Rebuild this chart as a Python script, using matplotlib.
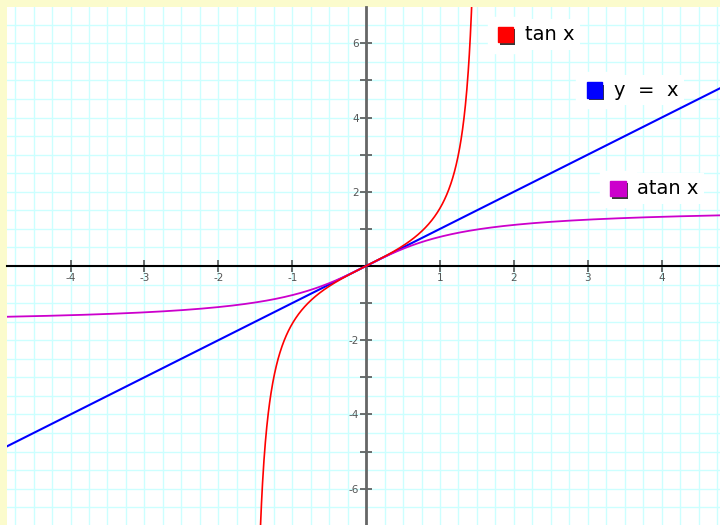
import numpy as np
import matplotlib.pyplot as plt
import matplotlib.ticker as mticker
import matplotlib.patheffects as pe

plt.rcParams['axes.unicode_minus'] = False

# curves: tan x (central branch), y = x and atan x
x_tan = np.linspace(-1.435, 1.435, 600)
y_tan = np.tan(x_tan)
x_line = np.linspace(-4.9, 4.8, 50)
y_line = x_line
x_atan = np.linspace(-4.9, 4.8, 400)
y_atan = np.arctan(x_atan)

labels = ['tan x', 'y  =  x', 'atan x']
colors = ['#ff0000', '#0000ff', '#cc00cc']
key_pos = [(1.89, 6.23), (3.09, 4.74), (3.41, 2.08)]

fig = plt.figure(figsize=(7.2, 5.25), dpi=100, facecolor='#fbfbcc')
ax = fig.add_axes([7 / 720, 0, 713 / 720, 518 / 525])
ax.set_facecolor('white')
ax.set_xlim(-4.86, 4.79)
ax.set_ylim(-6.98, 6.98)

# graph paper grid
ax.xaxis.set_major_locator(mticker.MultipleLocator(1))
ax.xaxis.set_minor_locator(mticker.MultipleLocator(0.25))
ax.yaxis.set_major_locator(mticker.MultipleLocator(1))
ax.yaxis.set_minor_locator(mticker.MultipleLocator(0.5))
ax.grid(which='both', color='#ccffff', linewidth=1.0)
ax.set_axisbelow(True)

ax.xaxis.set_major_formatter(mticker.FuncFormatter(
    lambda v, p: '' if round(v) == 0 else '%d' % round(v)))
ax.yaxis.set_major_formatter(mticker.FuncFormatter(
    lambda v, p: '%d' % round(v) if round(v) != 0 and round(v) % 2 == 0 else ''))

for s in ['top', 'right']:
    ax.spines[s].set_visible(False)
ax.spines['left'].set_position('zero')
ax.spines['bottom'].set_position('zero')
ax.spines['left'].set_color('#666666')
ax.spines['left'].set_linewidth(2)
ax.spines['bottom'].set_color('black')
ax.spines['bottom'].set_linewidth(1.5)
ax.spines['left'].set_zorder(1.5)
ax.spines['bottom'].set_zorder(1.5)

ax.tick_params(which='major', direction='inout', length=8, width=1.2,
               color='#555555', labelsize=7.5, labelcolor='#555555', pad=1)
ax.tick_params(which='minor', length=0)

ax.plot(x_line, y_line, color=colors[1], lw=1.5, zorder=3)
ax.plot(x_atan, y_atan, color=colors[2], lw=1.3, zorder=3)
ax.plot(x_tan, y_tan, color=colors[0], lw=1.2, zorder=3)

# key labels with shadowed colour squares
for (kx, ky), lab, col in zip(key_pos, labels, colors):
    ax.plot([kx], [ky], marker='s', markersize=26, color='white',
            linestyle='none', zorder=4)
    ax.plot([kx], [ky], marker='s', markersize=11, color=col, mec=col,
            linestyle='none', zorder=5,
            path_effects=[pe.SimplePatchShadow(offset=(1.5, -1.5),
                                               shadow_rgbFace='#222222',
                                               alpha=0.9),
                          pe.Normal()])
    ax.text(kx + 0.26, ky, lab, fontsize=14, family='DejaVu Sans',
            va='center', ha='left', color='black', zorder=4,
            bbox=dict(boxstyle='square,pad=0.3', fc='white', ec='none'))

fig.savefig('out.png', dpi=100, facecolor=fig.get_facecolor())
